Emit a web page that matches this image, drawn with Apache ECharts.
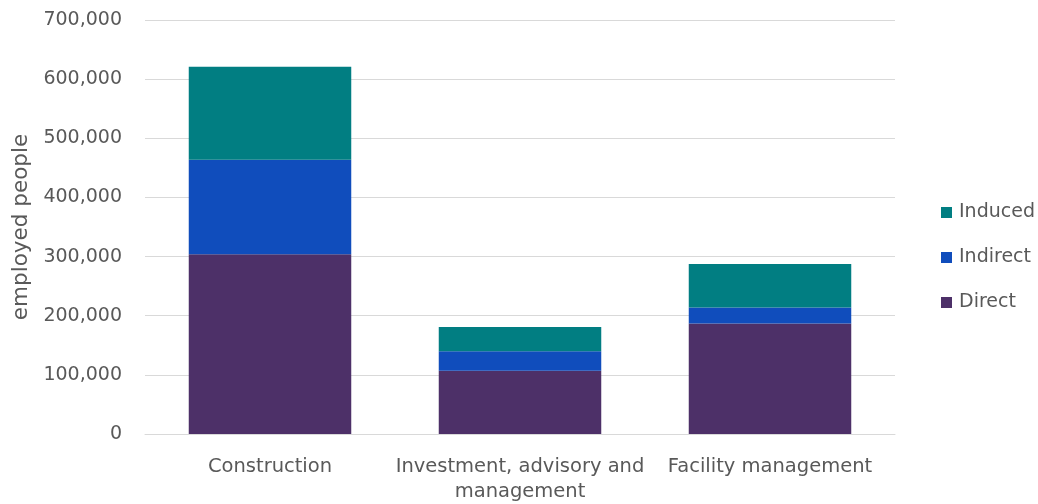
<!DOCTYPE html>
<html><head><meta charset="utf-8">
<script src="https://cdn.jsdelivr.net/npm/echarts@6/dist/echarts.min.js"></script>
<style>html,body{margin:0;padding:0;background:#fff;overflow:hidden}#c{width:1038px;height:504px}</style>
</head><body><div id="c"></div>
<script>
var categories = ['Construction', 'Investment, advisory and\nmanagement', 'Facility management'];
var direct = [304000, 107000, 187000];
var indirect = [159500, 33000, 27000];
var induced = [157500, 41000, 73500];
var yTicks = [0, 100000, 200000, 300000, 400000, 500000, 600000, 700000];

var font = 'DejaVu Sans';
var chart = echarts.init(document.getElementById('c'));
chart.setOption({
  animation: false,
  textStyle: {fontFamily: font},
  grid: {left: 145, right: 143, top: 20, bottom: 68, containLabel: false},
  legend: {
    orient: 'vertical', left: 936, top: 198, itemGap: 26,
    itemWidth: 11, itemHeight: 11, icon: 'rect',
    data: ['Induced', 'Indirect', 'Direct'],
    textStyle: {fontFamily: font, fontSize: 19, color: '#595959', padding: [0,0,0,2]}
  },
  xAxis: {
    type: 'category', data: categories,
    axisLine: {lineStyle: {color: '#d9d9d9'}}, axisTick: {show: false},
    axisLabel: {fontFamily: font, fontSize: 19.5, color: '#595959', margin: 20, lineHeight: 25, interval: 0}
  },
  yAxis: {
    type: 'value', min: yTicks[0], max: yTicks[yTicks.length - 1], interval: 100000,
    name: 'employed people', nameLocation: 'middle', nameGap: 110,
    nameTextStyle: {fontFamily: font, fontSize: 21.5, color: '#595959'},
    axisLine: {show: false}, axisTick: {show: false},
    splitLine: {lineStyle: {color: '#d9d9d9', width: 1}},
    axisLabel: {fontFamily: font, fontSize: 19, color: '#595959', margin: 23,
      formatter: function (v) { return v.toLocaleString('en-US'); }}
  },
  series: [
    {name: 'Direct', type: 'bar', stack: 's', data: direct, barWidth: '65%', itemStyle: {color: '#4D3068'}},
    {name: 'Indirect', type: 'bar', stack: 's', data: indirect, itemStyle: {color: '#104DBC'}},
    {name: 'Induced', type: 'bar', stack: 's', data: induced, itemStyle: {color: '#017E82'}}
  ]
});
</script></body></html>
